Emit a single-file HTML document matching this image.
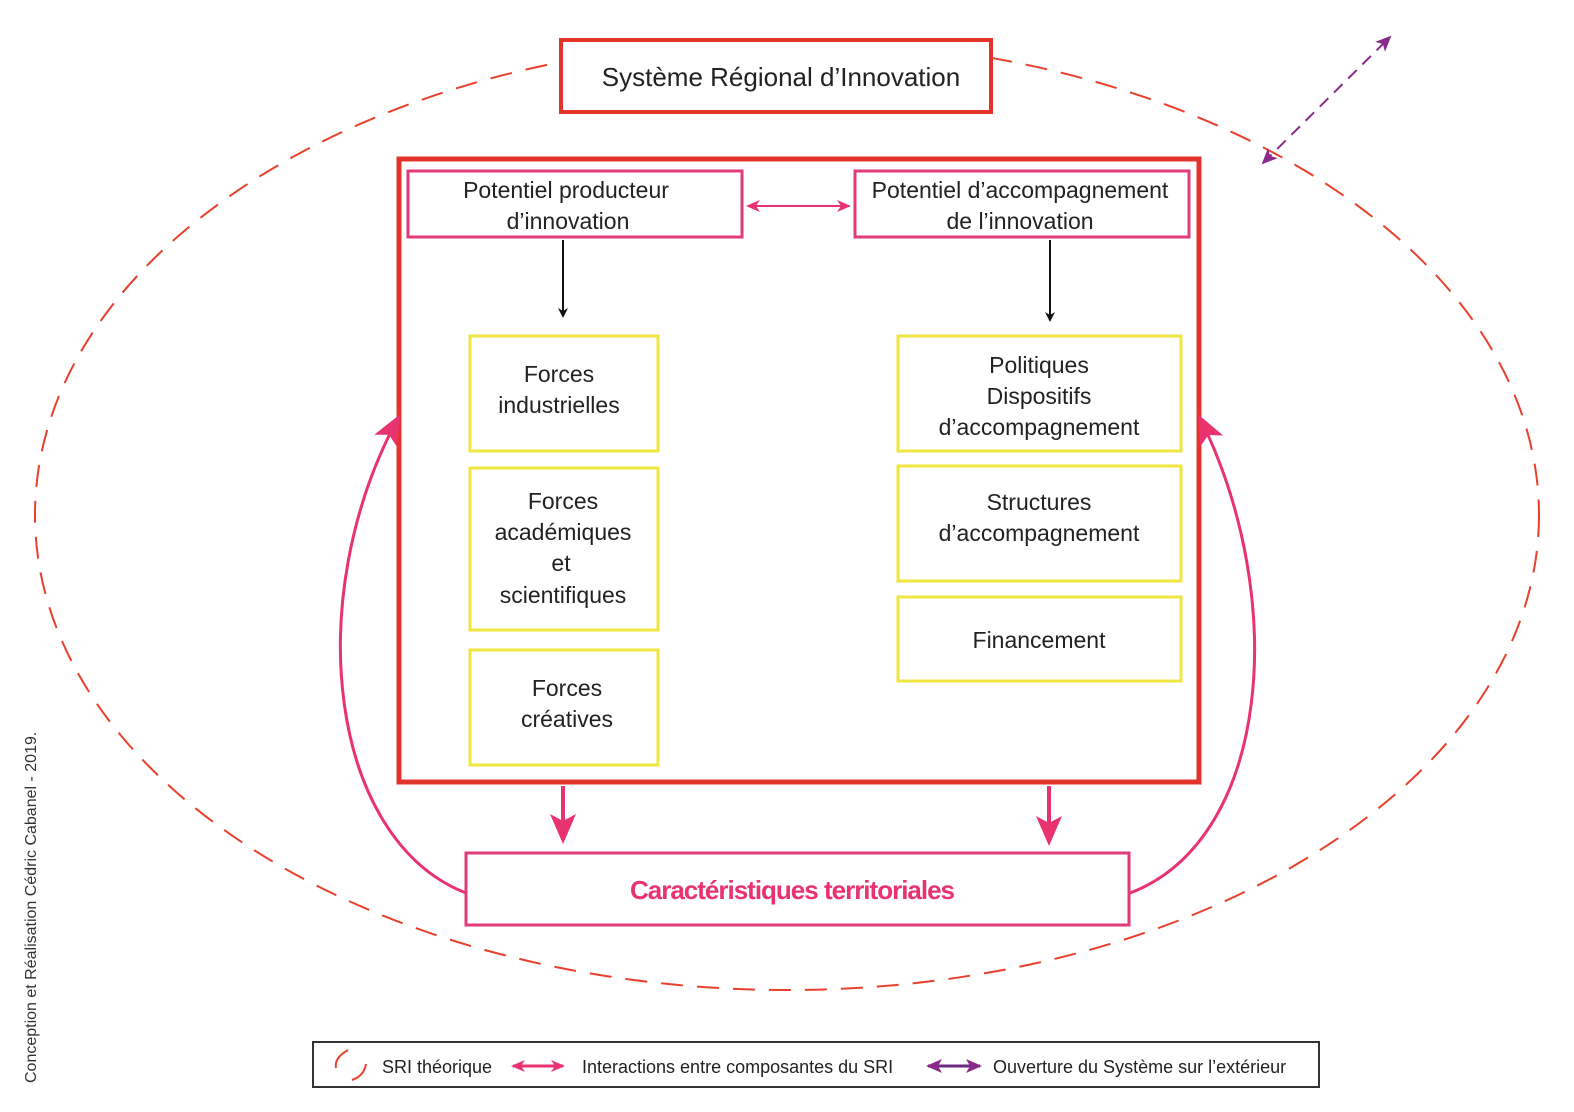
<!DOCTYPE html>
<html><head><meta charset="utf-8"><style>
html,body{margin:0;padding:0;background:#fff}
svg{display:block}
text{font-family:"Liberation Sans",sans-serif;fill:#222}
</style></head><body>
<svg width="1574" height="1112" viewBox="0 0 1574 1112" xmlns="http://www.w3.org/2000/svg">
<defs>
<marker id="ak" markerWidth="10" markerHeight="10" refX="8" refY="5" orient="auto" markerUnits="userSpaceOnUse"><path d="M0,0 L10,5 L0,10 L3,5 z" fill="#111"/></marker>
<marker id="ap" markerWidth="14" markerHeight="12" refX="12" refY="6" orient="auto-start-reverse" markerUnits="userSpaceOnUse"><path d="M0,0 L14,6 L0,12 L4,6 z" fill="#e8336e"/></marker>
<marker id="apb" markerWidth="30" markerHeight="26" refX="26" refY="13" orient="auto" markerUnits="userSpaceOnUse"><path d="M0,0 L30,13 L0,26 L7,13 z" fill="#e8336e"/></marker>
<marker id="av" markerWidth="16" markerHeight="14" refX="14" refY="7" orient="auto-start-reverse" markerUnits="userSpaceOnUse"><path d="M0,0 L16,7 L0,14 L4,7 z" fill="#8a2a8a"/></marker>
</defs>
<ellipse cx="787" cy="515" rx="752" ry="475" fill="none" stroke="#e8402c" stroke-width="2" stroke-dasharray="22 14"/>
<rect x="561" y="40" width="430" height="72" fill="#fff" stroke="#e3342c" stroke-width="4"/>
<text x="781" y="86" font-size="26" text-anchor="middle">Système Régional d’Innovation</text>
<line x1="1263" y1="163" x2="1390" y2="37" stroke="#8a2a8a" stroke-width="2" stroke-dasharray="12 8" marker-start="url(#av)" marker-end="url(#av)"/>
<rect x="399" y="159" width="800" height="623" fill="none" stroke="#e3342c" stroke-width="5"/>
<rect x="408" y="171" width="334" height="66" fill="#fff" stroke="#e03a7a" stroke-width="3"/>
<text x="566" y="198" font-size="23" text-anchor="middle">Potentiel producteur</text>
<text x="568" y="229" font-size="23" text-anchor="middle">d’innovation</text>
<rect x="855" y="171" width="334" height="66" fill="#fff" stroke="#e03a7a" stroke-width="3"/>
<text x="1020" y="198" font-size="23" text-anchor="middle">Potentiel d’accompagnement</text>
<text x="1020" y="229" font-size="23" text-anchor="middle">de l’innovation</text>
<line x1="748" y1="206" x2="849" y2="206" stroke="#e8336e" stroke-width="2" marker-start="url(#ap)" marker-end="url(#ap)"/>
<line x1="563" y1="240" x2="563" y2="316" stroke="#111" stroke-width="2" marker-end="url(#ak)"/>
<line x1="1050" y1="240" x2="1050" y2="320" stroke="#111" stroke-width="2" marker-end="url(#ak)"/>
<g fill="#fff" stroke="#f0e640" stroke-width="3">
<rect x="470" y="336" width="188" height="115"/>
<rect x="470" y="468" width="188" height="162"/>
<rect x="470" y="650" width="188" height="115"/>
<rect x="898" y="336" width="283" height="115"/>
<rect x="898" y="466" width="283" height="115"/>
<rect x="898" y="597" width="283" height="84"/>
</g>
<g font-size="23" text-anchor="middle">
<text x="559" y="382">Forces</text><text x="559" y="413">industrielles</text>
<text x="563" y="509">Forces</text><text x="563" y="540">académiques</text><text x="561" y="571">et</text><text x="563" y="603">scientifiques</text>
<text x="567" y="696">Forces</text><text x="567" y="727">créatives</text>
<text x="1039" y="373">Politiques</text><text x="1039" y="404">Dispositifs</text><text x="1039" y="435">d’accompagnement</text>
<text x="1039" y="510">Structures</text><text x="1039" y="541">d’accompagnement</text>
<text x="1039" y="648">Financement</text>
</g>
<line x1="563" y1="786" x2="563" y2="840" stroke="#e8336e" stroke-width="4" marker-end="url(#apb)"/>
<line x1="1049" y1="786" x2="1049" y2="842" stroke="#e8336e" stroke-width="4" marker-end="url(#apb)"/>
<path d="M466 893 C330 840 300 600 398 418" fill="none" stroke="#e8336e" stroke-width="3" marker-end="url(#apb)"/>
<path d="M1130 893 C1270 840 1290 600 1200 418" fill="none" stroke="#e8336e" stroke-width="3" marker-end="url(#apb)"/>
<rect x="466" y="853" width="663" height="72" fill="#fff" stroke="#e03a7a" stroke-width="3"/>
<text x="792" y="899" font-size="26" font-weight="bold" text-anchor="middle" style="fill:#e8336e" letter-spacing="-1">Caractéristiques territoriales</text>
<text transform="translate(36,1083) rotate(-90)" font-size="16" style="fill:#333">Conception et Réalisation Cédric Cabanel - 2019.</text>
<rect x="313" y="1042" width="1006" height="45" fill="#fff" stroke="#333" stroke-width="2"/>
<path d="M348 1050 Q334 1058 336 1068" fill="none" stroke="#e8402c" stroke-width="2"/>
<path d="M366 1064 Q364 1076 352 1080" fill="none" stroke="#e8402c" stroke-width="2"/>
<g font-size="18"><text x="382" y="1073">SRI théorique</text>
<text x="582" y="1073">Interactions entre composantes du SRI</text>
<text x="993" y="1073">Ouverture du Système sur l’extérieur</text></g>
<line x1="513" y1="1066" x2="563" y2="1066" stroke="#e8336e" stroke-width="3" marker-start="url(#ap)" marker-end="url(#ap)"/>
<line x1="928" y1="1066" x2="980" y2="1066" stroke="#6b2a80" stroke-width="3" marker-start="url(#av)" marker-end="url(#av)"/>
</svg>
</body></html>
